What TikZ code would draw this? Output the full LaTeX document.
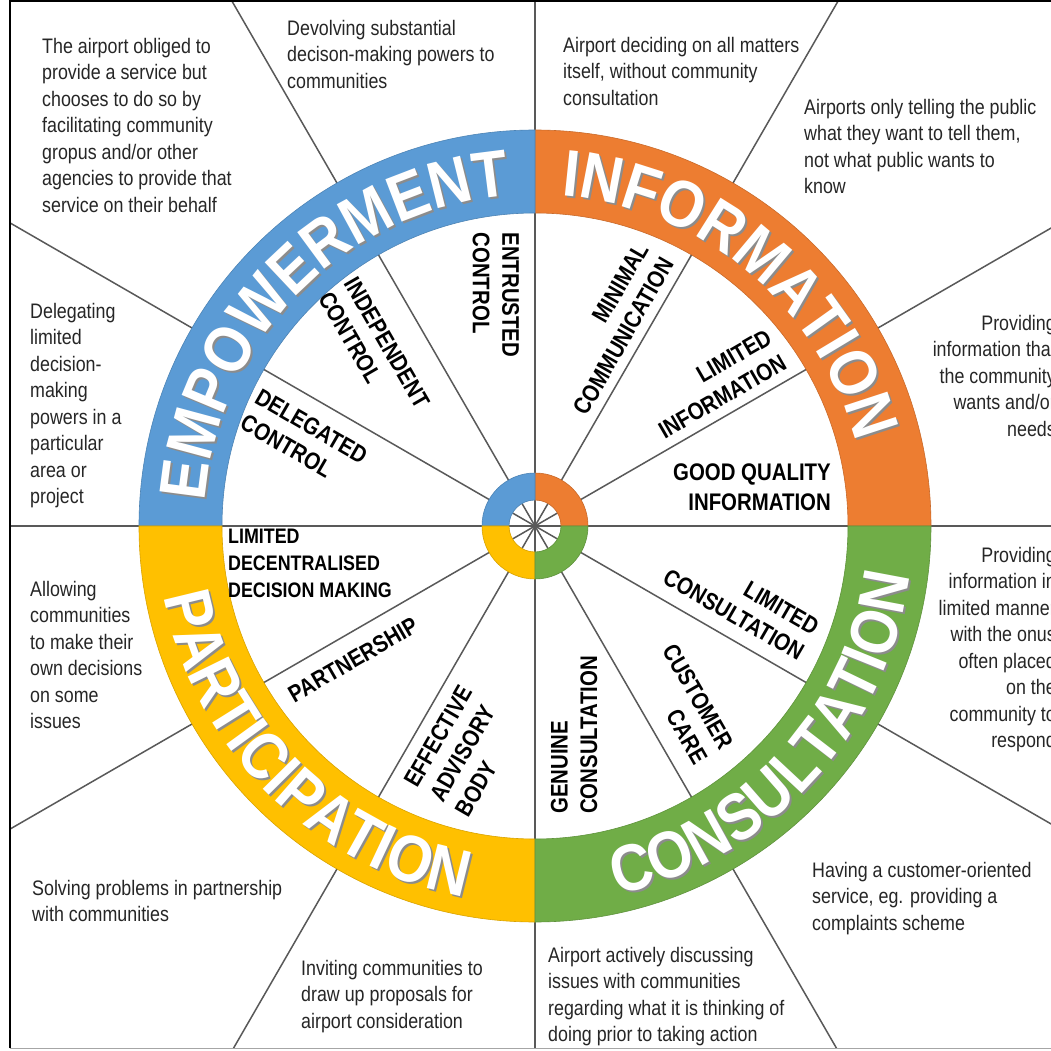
\documentclass[tikz,border=0pt]{standalone}
\usepackage{fontspec}
\setmainfont{Liberation Sans}[FakeStretch=0.85]
\newfontfamily\ringfam{Liberation Sans}[FakeStretch=0.88]
\usetikzlibrary{decorations.text}
\definecolor{empblue}{HTML}{5B9BD5}
\definecolor{inforange}{HTML}{ED7D31}
\definecolor{partyellow}{HTML}{FFC000}
\definecolor{consgreen}{HTML}{70AD47}
\newcommand\ringfont{\ringfam\bfseries\fontsize{66}{70}\selectfont}
\newcommand\ringlabel[4]{%
  \path[decorate, shift={(2,-2)}, decoration={text along path, text align=center,
    text={|\color{black!45}\ringfont|#1}}] (#2:#4) arc (#2:#3:#4);
  \path[decorate, decoration={text along path, text align=center,
    text={|\color{white}\ringfont|#1}}] (#2:#4) arc (#2:#3:#4);}
\begin{document}
\begin{tikzpicture}[x=1pt,y=1pt]
  \tikzstyle{desc}=[font=\fontsize{21}{26.5}\selectfont, text=black!85, align=left, inner sep=0pt, anchor=north west]
  \tikzstyle{lab}=[font=\bfseries\fontsize{24}{29.5}\selectfont, inner sep=0pt]
  \tikzstyle{spoke}=[draw=black!65, line width=1.5pt]
  \tikzstyle{seg}=[line width=0.6pt]
  \useasboundingbox (-535,-525) rectangle (516,526);
  \fill[white] (-535,-525) rectangle (516,526);
  \begin{scope}
    \clip (-525,-522) rectangle (516,525);
    \foreach \a in {0,30,...,330}
      \draw[spoke] (0,0) -- (\a:800);
  \end{scope}
  \draw[black, line width=2.5pt] (-525,-522) -- (-525,525) -- (516,525);
  \draw[black!35, line width=1pt] (-525,-522) -- (516,-522);
  \foreach \c/\s in {inforange/0, empblue/90, partyellow/180, consgreen/270} {
    \filldraw[seg, fill=\c, draw=\c!85!black] (\s:396) arc (\s:\s+90:396) -- (\s+90:313) arc (\s+90:\s:313) -- cycle;
    \filldraw[seg, fill=\c, draw=\c!85!black] (\s:53) arc (\s:\s+90:53) -- (\s+90:26) arc (\s+90:\s:26) -- cycle;
  }
  \ringlabel{EMPOWERMENT}{180}{90}{331}
  \ringlabel{INFORMATION}{95}{5}{331}
  \ringlabel{PARTICIPATION}{180}{270}{378}
  \ringlabel{CONSULTATION}{272.5}{362.5}{378}
  \node[lab, rotate=-90, align=left] (entrusted) at (-39,231) {ENTRUSTED\\CONTROL};
  \node[lab, rotate=-60, align=left] (independent) at (-161,176) {INDEPENDENT\\CONTROL};
  \node[lab, rotate=-30, align=left] (delegated) at (-231,87) {DELEGATED\\CONTROL};
  \node[lab, rotate=60, align=right] (minimal) at (76,197) {MINIMAL\\COMMUNICATION};
  \node[lab, rotate=30, align=right] (limitedinfo) at (180,142) {LIMITED\\INFORMATION};
  \node[lab, align=right] (goodinfo) at (217,39) {GOOD QUALITY\\INFORMATION};
  \node[lab, font=\bfseries\fontsize{21}{27}\selectfont, align=left, anchor=north west] (decentral) at (-307,-3) {LIMITED\\DECENTRALISED\\DECISION MAKING};
  \node[lab, rotate=30] (partnership) at (-182,-134) {PARTNERSHIP};
  \node[lab, rotate=60, align=left] (advisory) at (-71,-225) {EFFECTIVE\\ADVISORY\\BODY};
  \node[lab, rotate=-30, align=right] (limitedcons) at (206,-76) {LIMITED\\CONSULTATION};
  \node[lab, rotate=-60, align=right] (customer) at (150,-178) {CUSTOMER\\CARE};
  \node[lab, rotate=90, align=left] (genuine) at (39,-209) {GENUINE\\CONSULTATION};
  \node[desc] (obliged) at (-493,488) {The airport obliged to\\provide a service but\\chooses to do so by\\facilitating community\\gropus and/or other\\agencies to provide that\\service on their behalf};
  \node[desc] (devolving) at (-248,506) {Devolving substantial\\decison-making powers to\\communities};
  \node[desc] (deciding) at (28,489) {Airport deciding on all matters\\itself, without community\\consultation};
  \node[desc] (telling) at (269,427) {Airports only telling the public\\what they want to tell them,\\not what public wants to\\know};
  \node[desc, anchor=north east, align=right] (wants) at (521,211) {Providing\\information that\\the community\\wants and/or\\needs};
  \node[desc, anchor=north east, align=right] (onus) at (521,-21) {Providing\\information in\\limited manner\\with the onus\\often placed\\on the\\community to\\respond};
  \node[desc] (delegating) at (-505,223) {Delegating\\limited\\decision-\\making\\powers in a\\particular\\area or\\project};
  \node[desc] (allowing) at (-505,-55) {Allowing\\communities\\to make their\\own decisions\\on some\\issues};
  \node[desc] (solving) at (-503,-354) {Solving problems in partnership\\with communities};
  \node[desc] (inviting) at (-234,-434) {Inviting communities to\\draw up proposals for\\airport consideration};
  \node[desc] (discussing) at (13,-421) {Airport actively discussing\\issues with communities\\regarding what it is thinking of\\doing prior to taking action};
  \node[desc] (complaints) at (277,-336) {Having a customer-oriented\\service, eg. providing a\\complaints scheme};
\end{tikzpicture}
\end{document}
